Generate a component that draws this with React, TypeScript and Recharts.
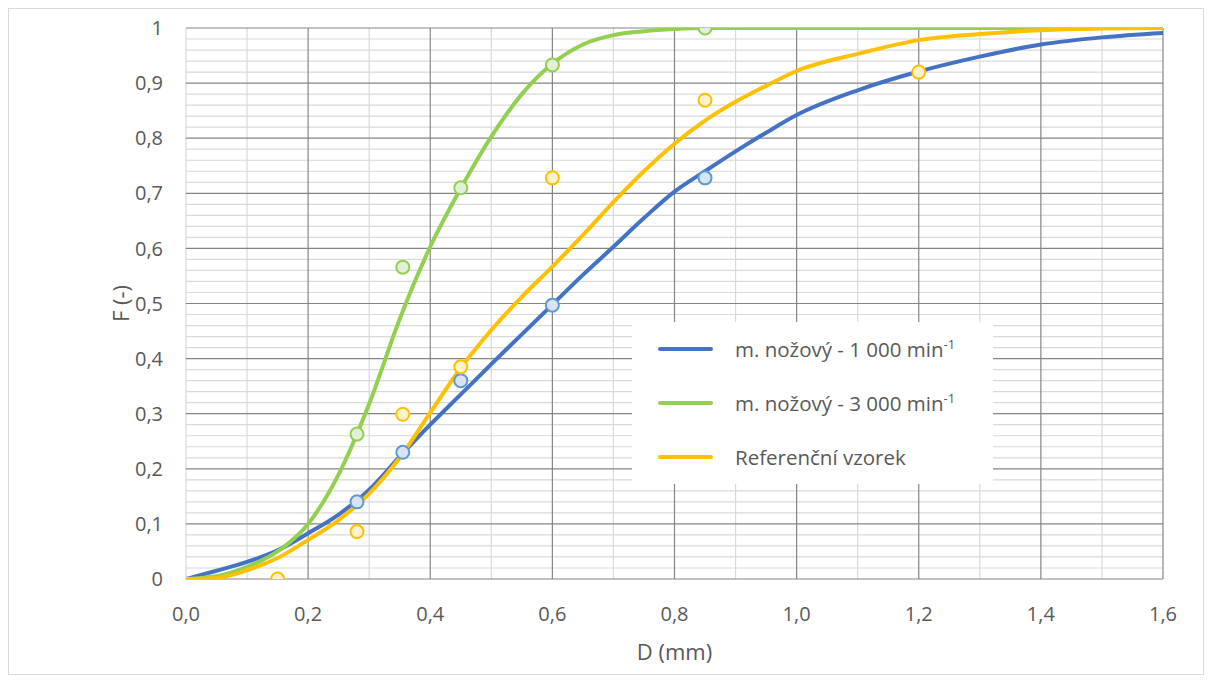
import React from 'react';
import {
  ComposedChart,
  Line,
  Scatter,
  XAxis,
  YAxis,
  ReferenceLine,
  Legend,
} from 'recharts';

// ---------- data ----------
const curveX = [0, 0.05, 0.1, 0.15, 0.2, 0.25, 0.3, 0.35, 0.4, 0.45, 0.5, 0.55, 0.6, 0.65, 0.7, 0.75, 0.8, 0.85, 0.9, 0.95, 1.0, 1.1, 1.2, 1.3, 1.4, 1.5, 1.6];
const curve1000 = [0, 0.015, 0.031, 0.052, 0.083, 0.117, 0.162, 0.222, 0.28, 0.335, 0.39, 0.444, 0.498, 0.552, 0.603, 0.655, 0.703, 0.74, 0.776, 0.81, 0.842, 0.887, 0.921, 0.948, 0.97, 0.983, 0.991];
const curve3000 = [0, 0.005, 0.022, 0.05, 0.1, 0.19, 0.318, 0.472, 0.603, 0.709, 0.803, 0.88, 0.935, 0.97, 0.987, 0.994, 0.998, 1, 1, 1, 1, 1, 1, 1, 1, 1, 1];
const curveRef = [0, 0.002, 0.016, 0.038, 0.071, 0.107, 0.155, 0.22, 0.302, 0.383, 0.452, 0.512, 0.567, 0.624, 0.684, 0.74, 0.79, 0.832, 0.866, 0.895, 0.922, 0.953, 0.978, 0.989, 0.996, 0.999, 1.0];

const pts1000X = [0.28, 0.355, 0.45, 0.6, 0.85];
const pts1000Y = [0.14, 0.23, 0.36, 0.497, 0.728];
const pts3000X = [0.28, 0.355, 0.45, 0.6, 0.85];
const pts3000Y = [0.263, 0.566, 0.71, 0.933, 1.0];
const ptsRefX = [0.15, 0.28, 0.355, 0.45, 0.6, 0.85, 1.2];
const ptsRefY = [0, 0.086, 0.299, 0.385, 0.728, 0.869, 0.92];

const xTicks = [0, 0.2, 0.4, 0.6, 0.8, 1.0, 1.2, 1.4, 1.6];
const yTicks = [0, 0.1, 0.2, 0.3, 0.4, 0.5, 0.6, 0.7, 0.8, 0.9, 1];
const xMinorGrid = [0, 0.1, 0.3, 0.5, 0.7, 0.9, 1.1, 1.3, 1.5];
const xMajorGrid = [0.2, 0.4, 0.6, 0.8, 1.0, 1.2, 1.4, 1.6];
const yMinorGrid = [
  0.02, 0.04, 0.06, 0.08, 0.12, 0.14, 0.16, 0.18, 0.22, 0.24, 0.26, 0.28,
  0.32, 0.34, 0.36, 0.38, 0.42, 0.44, 0.46, 0.48, 0.52, 0.54, 0.56, 0.58,
  0.62, 0.64, 0.66, 0.68, 0.72, 0.74, 0.76, 0.78, 0.82, 0.84, 0.86, 0.88,
  0.92, 0.94, 0.96, 0.98,
];
const yMajorGrid = [0, 0.1, 0.2, 0.3, 0.4, 0.5, 0.6, 0.7, 0.8, 0.9, 1];

const seriesNames = ['m. nožový - 1 000 min', 'm. nožový - 3 000 min', 'Referenční vzorek'];
const seriesSup = ['-1', '-1', ''];
const lineColors = ['#4472C4', '#92D050', '#FFC000'];
const markerStroke = ['#5B9BD5', '#92D050', '#FFC000'];
const markerFill = ['#DAE3F3', '#E2F0D9', '#FFF2CC'];

const toXY = (xs: number[], ys: number[]) => xs.map((x, i) => ({ x, y: ys[i] }));

const line1000 = toXY(curveX, curve1000);
const line3000 = toXY(curveX, curve3000);
const lineRef = toXY(curveX, curveRef);
const scat1000 = toXY(pts1000X, pts1000Y);
const scat3000 = toXY(pts3000X, pts3000Y);
const scatRef = toXY(ptsRefX, ptsRefY);

const FONT = "'Open Sans', 'DejaVu Sans', sans-serif";
const TEXT = '#595959';
const TICK_SIZE = 20;
const TITLE_SIZE = 22;
const LEGEND_SIZE = 20.5;

const fmtX = (v: number) => v.toFixed(1).replace('.', ',');
const fmtY = (v: number) => (v === 0 ? '0' : v === 1 ? '1' : v.toFixed(1).replace('.', ','));

const makeMarker = (i: number) => (props: any) => (
  <circle cx={props.cx} cy={props.cy} r={6.5} fill={markerFill[i]} stroke={markerStroke[i]} strokeWidth={2} />
);

const YTitle = (props: any) => {
  const vb = props.viewBox || {};
  const cx = vb.x + vb.width - 66;
  const cy = vb.y + vb.height / 2;
  return (
    <text
      x={cx}
      y={cy}
      transform={`rotate(-90, ${cx}, ${cy})`}
      textAnchor="middle"
      dominantBaseline="central"
      fill={TEXT}
      fontSize={TITLE_SIZE}
      fontFamily={FONT}
    >
      F (-)
    </text>
  );
};

const XTitle = (props: any) => {
  const vb = props.viewBox || {};
  return (
    <text
      x={vb.x + vb.width / 2}
      y={vb.y + 72}
      textAnchor="middle"
      dominantBaseline="central"
      fill={TEXT}
      fontSize={TITLE_SIZE}
      fontFamily={FONT}
    >
      D (mm)
    </text>
  );
};

const LegendBox = () => (
  <div
    style={{
      width: 361,
      height: 162,
      background: '#ffffff',
      position: 'relative',
      fontFamily: FONT,
      color: TEXT,
      fontSize: LEGEND_SIZE,
    }}
  >
    {seriesNames.map((name, i) => (
      <div key={name} style={{ position: 'absolute', left: 0, top: 27 + i * 54 - 15, height: 30, width: 361 }}>
        <div
          style={{
            position: 'absolute',
            left: 26,
            top: 13,
            width: 55,
            height: 4,
            borderRadius: 2,
            background: lineColors[i],
          }}
        />
        <div style={{ position: 'absolute', left: 103, top: 1, whiteSpace: 'nowrap', lineHeight: '28px' }}>
          {name}
          {seriesSup[i] ? <sup style={{ fontSize: 13, verticalAlign: 'top', position: 'relative', top: -5 }}>{seriesSup[i]}</sup> : null}
        </div>
      </div>
    ))}
  </div>
);

export default function App() {
  return (
    <div
      style={{
        width: 1196,
        height: 667,
        border: '1px solid #d9d9d9',
        boxSizing: 'border-box',
        background: '#fff',
        fontFamily: FONT,
      }}
    >
      <ComposedChart
        width={1194}
        height={665}
        margin={{ top: 19, right: 40, left: 0, bottom: 25 }}
      >
        <XAxis
          type="number"
          dataKey="x"
          domain={[0, 1.6]}
          ticks={xTicks}
          tickFormatter={fmtX}
          axisLine={false}
          tickLine={false}
          tickSize={0}
          tickMargin={28}
          height={70}
          tick={{ fill: TEXT, fontSize: TICK_SIZE, fontFamily: FONT }}
          label={XTitle}
          allowDataOverflow
        />
        <YAxis
          type="number"
          dataKey="y"
          domain={[0, 1]}
          ticks={yTicks}
          tickFormatter={fmtY}
          axisLine={false}
          tickLine={false}
          tickSize={0}
          tickMargin={23}
          width={177}
          tick={{ fill: TEXT, fontSize: TICK_SIZE, fontFamily: FONT }}
          label={YTitle}
          allowDataOverflow
        />
        {yMinorGrid.map((v) => (
          <ReferenceLine key={'ym' + v} y={v} stroke="#d9d9d9" strokeWidth={1.2} />
        ))}
        {xMinorGrid.map((v) => (
          <ReferenceLine key={'xm' + v} x={v} stroke="#d9d9d9" strokeWidth={1.2} />
        ))}
        {yMajorGrid.map((v) => (
          <ReferenceLine key={'yM' + v} y={v} stroke="#858585" strokeWidth={1.2} />
        ))}
        {xMajorGrid.map((v) => (
          <ReferenceLine key={'xM' + v} x={v} stroke="#858585" strokeWidth={1.2} />
        ))}
        <Legend
          layout="horizontal"
          verticalAlign="middle"
          align="center"
          content={() => <LegendBox />}
          wrapperStyle={{ left: 623, top: 313, width: 361, height: 162 }}
        />
        <Line data={line1000} dataKey="y" type="monotone" stroke={lineColors[0]} strokeWidth={4} dot={false} activeDot={false} strokeLinecap="round" isAnimationActive={false} name={seriesNames[0]} />
        <Line data={line3000} dataKey="y" type="monotone" stroke={lineColors[1]} strokeWidth={4} dot={false} activeDot={false} strokeLinecap="round" isAnimationActive={false} name={seriesNames[1]} />
        <Line data={lineRef} dataKey="y" type="monotone" stroke={lineColors[2]} strokeWidth={4} dot={false} activeDot={false} strokeLinecap="round" isAnimationActive={false} name={seriesNames[2]} />
        <Scatter data={scat1000} dataKey="y" shape={makeMarker(0)} isAnimationActive={false} legendType="none" />
        <Scatter data={scat3000} dataKey="y" shape={makeMarker(1)} isAnimationActive={false} legendType="none" />
        <Scatter data={scatRef} dataKey="y" shape={makeMarker(2)} isAnimationActive={false} legendType="none" />
      </ComposedChart>
    </div>
  );
}
